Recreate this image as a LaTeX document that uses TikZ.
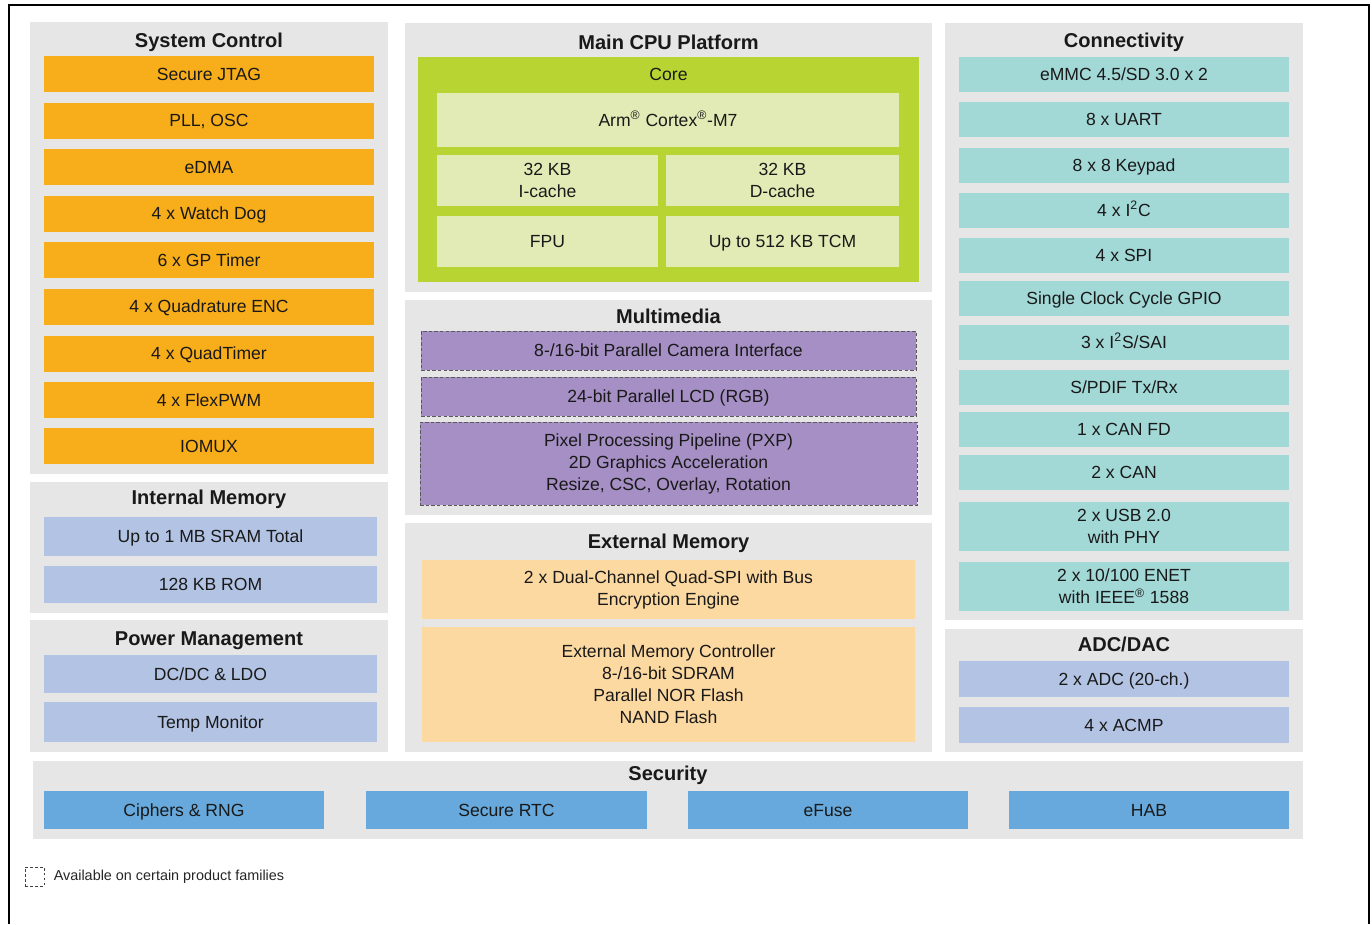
\documentclass[tikz,border=0pt]{standalone}
\usepackage{fontspec}
\setmainfont{Liberation Sans}
\usepackage{tikz}
\usetikzlibrary{positioning}
\definecolor{panelgray}{HTML}{E6E6E6}
\definecolor{sysorange}{HTML}{F8AE1A}
\definecolor{memblue}{HTML}{B3C3E4}
\definecolor{coregreen}{HTML}{B7D433}
\definecolor{corepale}{HTML}{E2EBB6}
\definecolor{mediapurple}{HTML}{A58FC4}
\definecolor{extpeach}{HTML}{FDD9A2}
\definecolor{connteal}{HTML}{A2D9D7}
\definecolor{secblue}{HTML}{67A9DC}
\tikzstyle{panel}   = [rectangle, fill=panelgray, inner sep=0pt]
\tikzstyle{title}   = [font=\bfseries\fontsize{11.4}{13}\selectfont, text=black!90, text height=9.8pt, text depth=1.6pt]
\tikzstyle{oneline} = [text height=8.6pt, text depth=1.4pt]
\tikzstyle{twoline} = [text height=, text depth=]
\tikzstyle{blk}     = [rectangle, inner sep=0pt, align=center, text=black!90, font=\fontsize{10}{12.5}\selectfont, oneline]
\tikzstyle{sysblk}  = [blk, fill=sysorange, minimum width=6.6cm, minimum height=0.72cm]
\tikzstyle{memblk}  = [blk, fill=memblue, minimum width=6.66cm, minimum height=0.76cm]
\tikzstyle{coreblk} = [blk, fill=corepale, minimum height=1.02cm]
\tikzstyle{mediablk}= [blk, fill=mediapurple, draw=black!65, line width=0.5pt, dash pattern=on 2pt off 1.2pt, minimum width=9.9cm, minimum height=0.78cm]
\tikzstyle{extblk}  = [blk, fill=extpeach, minimum width=9.86cm, twoline]
\tikzstyle{connblk} = [blk, fill=connteal, minimum width=6.6cm, minimum height=0.7cm]
\tikzstyle{secblk}  = [blk, fill=secblue, minimum width=5.62cm, minimum height=0.76cm]

\begin{document}
\begin{tikzpicture}[x=0.02cm, y=-0.02cm]
	\useasboundingbox (0,0) rectangle (1372,924);
	\draw[line width=1.1pt] (9,924) -- (9,5) -- (1369,5) -- (1369,924);

	% left column
	\node[panel, minimum width=7.16cm, minimum height=9.04cm] (sysctl) at (209,248) {};
	\node[title] (sysctl-t) at (209,40) {System Control};
	\node[sysblk] (jtag)  at (209,74)    {Secure JTAG};
	\node[sysblk] (pll)   at (209,120.5) {PLL, OSC};
	\node[sysblk] (edma)  at (209,167)   {eDMA};
	\node[sysblk] (wdog)  at (209,213.5) {4 x Watch Dog};
	\node[sysblk] (gpt)   at (209,260)   {6 x GP Timer};
	\node[sysblk] (enc)   at (209,306.5) {4 x Quadrature ENC};
	\node[sysblk] (qtmr)  at (209,353.5) {4 x QuadTimer};
	\node[sysblk] (pwm)   at (209,400)   {4 x FlexPWM};
	\node[sysblk] (iomux) at (209,446)   {IOMUX};

	\node[panel, minimum width=7.16cm, minimum height=2.62cm] (intmem) at (209,547.5) {};
	\node[title] (intmem-t) at (209,497) {Internal Memory};
	\node[memblk, minimum height=0.78cm] (sram) at (210.5,536.5) {Up to 1 MB SRAM Total};
	\node[memblk, minimum height=0.74cm] (rom)  at (210.5,584.5) {128 KB ROM};

	\node[panel, minimum width=7.16cm, minimum height=2.64cm] (pwr) at (209,686) {};
	\node[title] (pwr-t) at (209,638) {Power Management};
	\node[memblk] (dcdc)    at (210.5,674) {DC/DC \& LDO};
	\node[memblk, minimum height=0.8cm] (tempmon) at (210.5,722) {Temp Monitor};

	% middle column
	\node[panel, minimum width=10.54cm, minimum height=5.38cm] (cpu) at (668.5,157.5) {};
	\node[title] (cpu-t) at (668.5,42) {Main CPU Platform};
	\node[rectangle, fill=coregreen, minimum width=10.02cm, minimum height=4.5cm] (core) at (668.5,169.5) {};
	\node[blk] (core-t) at (668.5,74) {Core};
	\node[coreblk, minimum width=9.24cm, minimum height=1.08cm] (arm) at (668,120) {Arm\textsuperscript{®} Cortex\textsuperscript{®}-M7};
	\node[coreblk, twoline, minimum width=4.42cm] (icache) at (547.5,180.5) {32 KB\\I-cache};
	\node[coreblk, twoline, minimum width=4.66cm] (dcache) at (782.5,180.5) {32 KB\\D-cache};
	\node[coreblk, minimum width=4.42cm] (fpu)    at (547.5,241.5) {FPU};
	\node[coreblk, minimum width=4.66cm] (tcm)    at (782.5,241.5) {Up to 512 KB TCM};

	\node[panel, minimum width=10.54cm, minimum height=4.3cm] (media) at (668.5,407.5) {};
	\node[title] (media-t) at (668.5,316) {Multimedia};
	\node[mediablk] (csi) at (668.5,350.5) {8-/16-bit Parallel Camera Interface};
	\node[mediablk] (lcd) at (668.5,396.5) {24-bit Parallel LCD (RGB)};
	\node[mediablk, twoline, minimum width=9.94cm, minimum height=1.66cm] (pxp) at (668.5,463.5) {Pixel Processing Pipeline (PXP)\\2D Graphics Acceleration\\Resize, CSC, Overlay, Rotation};

	\node[panel, minimum width=10.54cm, minimum height=4.58cm] (extmem) at (668.5,637.5) {};
	\node[title] (extmem-t) at (668.5,541) {External Memory};
	\node[extblk, minimum height=1.18cm] (flexspi) at (668.5,589.5) {2 x Dual-Channel Quad-SPI with Bus\\Encryption Engine};
	\node[extblk, minimum height=2.3cm] (semc) at (668.5,684.5) {External Memory Controller\\8-/16-bit SDRAM\\Parallel NOR Flash\\NAND Flash};

	% right column
	\node[panel, minimum width=7.16cm, minimum height=11.94cm] (conn) at (1124,321.5) {};
	\node[title] (conn-t) at (1124,40) {Connectivity};
	\node[connblk] (usdhc) at (1124,74.5)  {eMMC 4.5/SD 3.0 x 2};
	\node[connblk] (uart)  at (1124,119.5) {8 x UART};
	\node[connblk] (kpp)   at (1124,165)   {8 x 8 Keypad};
	\node[connblk] (i2c)   at (1124,210)   {4 x I\textsuperscript{2}C};
	\node[connblk] (spi)   at (1124,255)   {4 x SPI};
	\node[connblk] (gpio)  at (1124,298.5) {Single Clock Cycle GPIO};
	\node[connblk] (sai)   at (1124,342)   {3 x I\textsuperscript{2}S/SAI};
	\node[connblk] (spdif) at (1124,387)   {S/PDIF Tx/Rx};
	\node[connblk] (canfd) at (1124,429.5) {1 x CAN FD};
	\node[connblk] (can)   at (1124,472)   {2 x CAN};
	\node[connblk, twoline, minimum height=0.98cm] (usb)  at (1124,526.5) {2 x USB 2.0\\with PHY};
	\node[connblk, twoline, minimum height=0.98cm] (enet) at (1124,586.5) {2 x 10/100 ENET\\with IEEE\textsuperscript{®} 1588};

	\node[panel, minimum width=7.16cm, minimum height=2.46cm] (adcdac) at (1124,690.5) {};
	\node[title] (adcdac-t) at (1124,644) {ADC/DAC};
	\node[memblk, minimum width=6.6cm, minimum height=0.72cm] (adc)  at (1124,679) {2 x ADC (20-ch.)};
	\node[memblk, minimum width=6.6cm, minimum height=0.72cm] (acmp) at (1124,725) {4 x ACMP};

	% security row
	\node[panel, minimum width=25.4cm, minimum height=1.56cm] (security) at (668,800) {};
	\node[title] (security-t) at (668,773) {Security};
	\node[secblk] (cipher) at (184,810)   {Ciphers \& RNG};
	\node[secblk] (rtc)    at (506.5,810) {Secure RTC};
	\node[secblk] (efuse)  at (828,810)   {eFuse};
	\node[secblk] (hab)    at (1149,810)  {HAB};

	% legend
	\node[rectangle, draw=black!75, line width=0.5pt, dash pattern=on 1.6pt off 1.2pt, minimum size=0.38cm, inner sep=0pt] (legend) at (34.5,876.5) {};
	\node[font=\fontsize{8.2}{10}\selectfont, text=black!85, inner sep=0pt, right=0.18cm of legend] (legend-t) {Available on certain product families};
\end{tikzpicture}
\end{document}
